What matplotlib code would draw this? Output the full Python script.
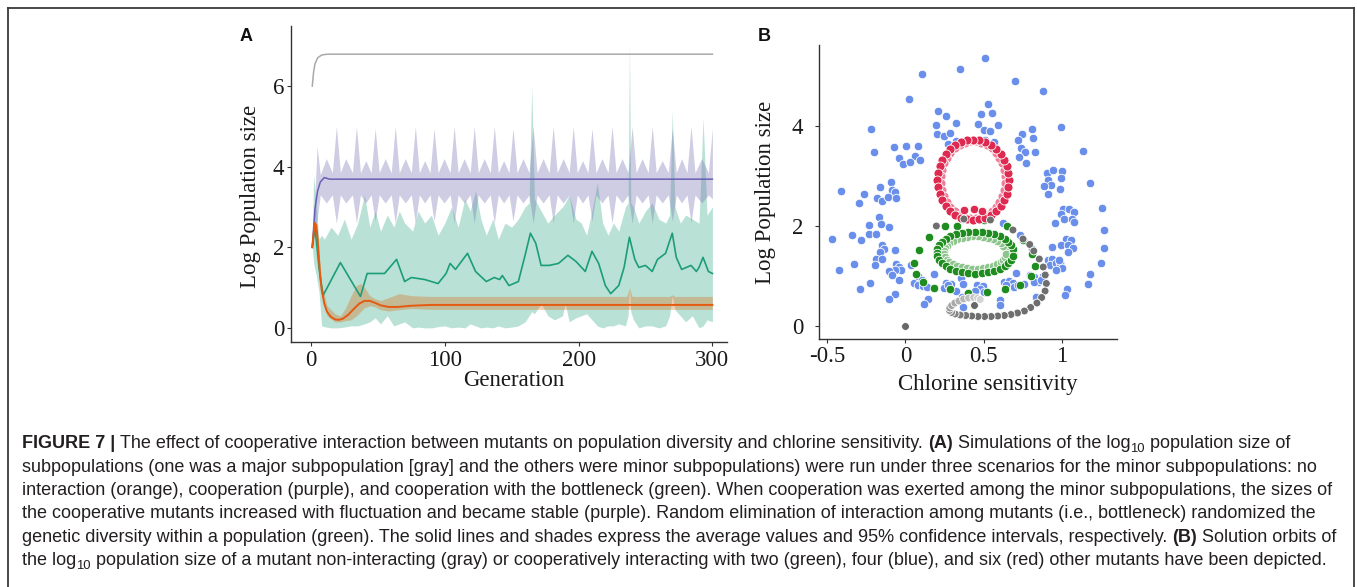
import matplotlib
matplotlib.use("Agg")
import matplotlib.pyplot as plt
from matplotlib import font_manager
from matplotlib.lines import Line2D

# ---------------- panel A data ----------------
gray_gen = [1, 2, 3, 5, 8, 12, 300]
gray_mean = [6.0, 6.35, 6.55, 6.7, 6.77, 6.79, 6.79]

purple_gen = [1, 3, 5, 7, 10, 14, 300]
purple_mean = [2.0, 2.95, 3.4, 3.62, 3.73, 3.69, 3.69]

purple_band_gen = [1, 2.5, 4.6, 7, 11.5,
                   16, 19, 22, 26, 31, 34, 37, 41, 45, 48, 51, 55.5,
                   60, 63, 66, 70.5, 75, 78, 81, 85, 89, 92, 95, 99.5,
                   104, 107, 110, 114.5, 119, 122, 125, 129.5, 134, 137, 140, 144,
                   148, 151, 154, 158.5, 163, 166, 169, 173.5, 178, 181, 184, 188.5,
                   193, 196, 199, 203, 207, 210, 213, 217.5, 222, 225, 228, 232.5,
                   237, 240, 243, 247.5, 252, 255, 258, 262.5, 267, 270, 273, 277,
                   281, 284, 287, 292, 297, 300]
purple_band_hi = [2.0, 3.0, 4.5, 3.8, 4.2,
                  3.85, 5.0, 3.85, 4.2, 3.85, 5.0, 3.85, 4.15, 3.85, 4.95, 3.85, 4.2,
                  3.85, 5.0, 3.85, 4.2, 3.85, 5.0, 3.85, 4.15, 3.85, 4.95, 3.85, 4.2,
                  3.85, 5.0, 3.85, 4.2, 3.85, 5.0, 3.85, 4.2, 3.85, 5.0, 3.85, 4.15,
                  3.85, 4.95, 3.85, 4.2, 3.85, 5.0, 3.85, 4.2, 3.85, 5.0, 3.85, 4.2,
                  3.85, 5.0, 3.85, 4.15, 3.85, 4.95, 3.85, 4.2, 3.85, 5.0, 3.85, 4.2,
                  3.85, 5.0, 3.85, 4.2, 3.85, 5.0, 3.85, 4.15, 3.85, 4.95, 3.85, 4.2,
                  3.85, 5.0, 3.85, 4.2, 3.85, 4.95]
purple_band_lo = [2.0, 2.3, 2.7, 3.3, 3.1,
                  3.3, 2.6, 3.3, 3.1, 3.3, 2.6, 3.3, 3.1, 3.3, 2.65, 3.3, 3.1,
                  3.3, 2.6, 3.3, 3.1, 3.3, 2.6, 3.3, 3.1, 3.3, 2.65, 3.3, 3.1,
                  3.3, 2.6, 3.3, 3.1, 3.3, 2.6, 3.3, 3.1, 3.3, 2.6, 3.3, 3.1,
                  3.3, 2.65, 3.3, 3.1, 3.3, 2.6, 3.3, 3.1, 3.3, 2.6, 3.3, 3.1,
                  3.3, 2.6, 3.3, 3.1, 3.3, 2.65, 3.3, 3.1, 3.3, 2.6, 3.3, 3.1,
                  3.3, 2.6, 3.3, 3.1, 3.3, 2.6, 3.3, 3.1, 3.3, 2.65, 3.3, 3.1,
                  3.3, 2.6, 3.3, 3.1, 3.3, 3.2]

green_gen = [1, 3, 6, 9, 22, 37, 42, 55, 64, 70, 75, 85, 95, 101, 104, 108, 117, 123,
             131, 137, 141, 143, 148, 155, 160, 164, 168, 172, 178, 185, 192, 198, 205,
             210, 215, 220, 224, 230, 234, 238, 242, 245, 250, 255, 259, 265, 270, 273,
             277, 284, 288, 290, 293, 297, 300]
green_mean = [2.0, 2.5, 1.5, 0.8, 1.62, 0.78, 1.35, 1.35, 1.7, 1.15, 1.25, 1.2, 1.1, 1.35,
              1.6, 1.45, 1.85, 1.4, 1.15, 1.25, 1.2, 1.3, 1.05, 1.15, 1.8, 2.35, 2.1, 1.55,
              1.55, 1.6, 1.8, 1.65, 1.4, 1.9, 1.6, 1.05, 0.85, 1.05, 1.5, 2.25, 1.7, 1.5,
              1.55, 1.4, 1.7, 1.85, 2.35, 1.75, 1.45, 1.55, 1.4, 1.5, 1.75, 1.4, 1.35]

green_band_gen = [1, 2, 4, 6, 8, 10, 15, 20, 25, 30, 35, 40, 44, 48, 52, 57, 62, 66, 70, 76,
                  80, 85, 90, 95, 100, 105, 110, 115, 119, 123, 127, 131, 136, 140, 145, 150,
                  155, 160, 163, 165, 167, 172, 177, 182, 188, 190, 193, 198, 202, 206, 210,
                  214, 218, 222, 226, 230, 235, 237, 238, 239, 241, 245, 250, 255, 260, 265,
                  268, 270, 272, 276, 280, 285, 290, 293, 296, 300]
green_band_hi = [2.0, 3.8, 3.0, 2.2, 2.3, 2.2, 2.5, 2.3, 2.7, 2.2,
                 2.6, 3.3, 2.5, 2.9, 2.4, 2.8, 2.5, 2.9, 2.6, 2.4,
                 2.9, 2.6, 2.8, 2.3, 2.6, 3.0, 2.5, 3.2, 2.9, 3.4,
                 2.7, 2.3, 2.7, 2.2, 2.6, 2.5, 2.7, 3.0, 3.1, 6.0,
                 3.2, 2.9, 2.6, 2.8, 3.0, 3.1, 3.3, 2.7, 2.6, 2.3,
                 2.9, 3.6, 2.6, 2.3, 2.6, 2.4, 3.0, 3.1, 7.1, 3.1,
                 3.0, 2.6, 2.9, 3.1, 2.7, 2.6, 2.8, 5.4, 3.0, 2.6,
                 2.8, 2.7, 2.6, 5.2, 2.8, 3.0]
green_band_lo = [2.0, 1.6, 1.3, 0.9, 0.05, 0.03, 0.0, 0.0, 0.02, 0.05,
                 0.05, 0.1, 0.15, 0.25, 0.1, 0.3, 0.05, 0.1, 0.15, 0.0,
                 0.02, 0.0, 0.0, 0.03, 0.05, 0.0, 0.02, 0.0, 0.1, 0.05,
                 0.0, 0.02, 0.0, 0.05, 0.0, 0.02, 0.05, 0.15, 0.3, 0.4,
                 0.35, 0.6, 0.3, 0.2, 0.3, 0.6, 0.15, 0.25, 0.3, 0.35,
                 0.2, 0.05, 0.0, 0.05, 0.05, 0.1, 0.05, 0.3, 1.0, 0.4,
                 0.2, 0.0, 0.05, 0.05, 0.0, 0.05, 0.3, 0.8, 0.45, 0.3,
                 0.15, 0.3, 0.0, 0.05, 0.2, 0.15]

orange_gen = [1, 2, 3, 4, 5, 6, 7, 8, 10, 12, 15, 18, 21, 24, 28, 32, 36, 40, 44, 48,
              52, 58, 65, 75, 90, 300]
orange_mean = [2.0, 2.35, 2.6, 2.55, 2.2, 1.7, 1.25, 0.95, 0.6, 0.4, 0.27, 0.21, 0.2,
               0.23, 0.33, 0.47, 0.6, 0.67, 0.67, 0.62, 0.56, 0.52, 0.52, 0.55, 0.57, 0.57]
orange_band_gen = [1, 3, 5, 8, 12, 18, 22, 26, 30, 34, 37, 40, 44, 48, 52, 58, 66, 75, 90,
                   236, 238, 240, 268, 270, 272, 300]
orange_band_hi = [2.0, 2.65, 2.3, 1.1, 0.55, 0.35, 0.3, 0.5, 0.8, 1.05, 1.1, 1.0, 0.8,
                  0.72, 0.68, 0.75, 0.85, 0.8, 0.78, 0.78, 1.0, 0.78, 0.78, 0.82, 0.78, 0.78]
orange_band_lo = [2.0, 2.5, 2.1, 0.8, 0.3, 0.15, 0.15, 0.18, 0.2, 0.3, 0.4, 0.5, 0.55,
                  0.52, 0.45, 0.42, 0.45, 0.48, 0.46, 0.46, 0.46, 0.46, 0.46, 0.46, 0.46, 0.46]

# ---------------- panel B data (chlorine sensitivity, log size) ----------------
blue_pts = [(0.508, 5.37), (0.347, 5.15), (0.106, 5.04), (0.698, 4.91), (0.879, 4.70),
            (0.022, 4.54), (0.525, 4.45), (0.208, 4.31), (0.553, 4.27), (0.481, 4.23),
            (0.260, 4.21), (-0.217, 3.94), (0.198, 4.03), (0.322, 4.06), (0.466, 4.05),
            (0.500, 3.93), (0.540, 3.91), (0.589, 4.02), (0.806, 3.95), (0.993, 3.99),
            (0.204, 3.85), (0.249, 3.81), (0.286, 3.87), (0.747, 3.85), (0.813, 3.76),
            (0.506, 3.73), (0.323, 3.71), (0.566, 3.69), (0.717, 3.73), (0.270, 3.64),
            (-0.072, 3.59), (0.004, 3.61), (0.081, 3.61), (-0.200, 3.49), (0.736, 3.57),
            (0.766, 3.49), (0.825, 3.49), (1.136, 3.51), (-0.038, 3.37), (0.062, 3.41),
            (0.096, 3.32), (-0.015, 3.25), (0.032, 3.29), (0.725, 3.39), (0.772, 3.27),
            (0.906, 3.07), (0.944, 3.13), (1.000, 3.11), (0.908, 2.93), (0.993, 2.96),
            (0.927, 2.83), (0.887, 2.80), (0.987, 2.75), (0.911, 2.65), (1.181, 2.87),
            (-0.410, 2.70), (-0.262, 2.65), (-0.298, 2.47), (-0.164, 2.79), (-0.183, 2.57),
            (-0.147, 2.51), (-0.089, 2.89), (-0.087, 2.72), (-0.068, 2.69), (-0.108, 2.59),
            (-0.057, 2.57), (1.255, 2.37), (1.004, 2.35), (1.047, 2.34), (1.079, 2.29),
            (0.993, 2.25), (1.015, 2.15), (0.957, 2.07), (1.061, 2.15), (1.079, 2.09),
            (-0.166, 2.18), (-0.230, 2.03), (-0.155, 2.05), (-0.102, 1.99), (-0.342, 1.83),
            (-0.230, 1.85), (-0.190, 1.85), (-0.470, 1.74), (-0.283, 1.72), (-0.149, 1.62),
            (-0.134, 1.54), (-0.068, 1.53), (-0.162, 1.49), (-0.190, 1.35), (-0.149, 1.35),
            (-0.194, 1.23), (-0.325, 1.25), (-0.421, 1.12), (-0.060, 1.24), (-0.040, 1.19),
            (-0.028, 1.12), (-0.068, 1.12), (-0.102, 1.10), (-0.083, 1.02), (-0.040, 0.93),
            (0.036, 1.22), (-0.225, 0.87), (-0.289, 0.75), (-0.066, 0.65), (-0.104, 0.54),
            (0.057, 0.87), (0.083, 1.00), (0.104, 0.92), (0.079, 0.83), (0.115, 0.81),
            (0.181, 1.05), (0.136, 0.79), (0.143, 0.54), (0.121, 0.45), (0.260, 0.87),
            (0.291, 0.84), (0.323, 0.70), (0.245, 0.77), (0.270, 0.82), (0.366, 0.39),
            (0.355, 0.97), (0.370, 0.85), (0.362, 0.59), (0.457, 0.83), (0.494, 0.81),
            (0.479, 0.74), (0.504, 0.69), (0.445, 0.70), (0.632, 0.89), (0.659, 0.90),
            (0.685, 0.87), (0.696, 0.79), (0.643, 0.82), (0.717, 0.83), (0.606, 0.52),
            (0.606, 0.42), (0.834, 0.59), (0.706, 1.07), (0.798, 1.03), (0.819, 0.99),
            (0.876, 1.01), (0.849, 0.89), (0.823, 0.89), (0.759, 0.85), (0.866, 0.92),
            (1.266, 1.92), (1.025, 1.75), (1.057, 1.72), (0.993, 1.63), (1.036, 1.63),
            (1.072, 1.57), (1.040, 1.49), (0.934, 1.59), (1.266, 1.57), (0.908, 1.32),
            (0.934, 1.35), (0.925, 1.23), (0.962, 1.27), (0.989, 1.27), (0.998, 1.17),
            (0.962, 1.12), (0.979, 1.32), (1.249, 1.27), (1.181, 1.05), (1.168, 0.85),
            (1.029, 0.75), (1.019, 0.62), (0.621, 2.07), (0.734, 1.82), (0.808, 1.54),
            (0.480, 2.20), (0.360, 2.15)]

red_outer = [(0.661, 2.925), (0.658, 3.065), (0.647, 3.200), (0.630, 3.328), (0.608, 3.443),
             (0.580, 3.542), (0.547, 3.622), (0.511, 3.682), (0.473, 3.718), (0.433, 3.730),
             (0.393, 3.718), (0.355, 3.682), (0.319, 3.622), (0.286, 3.542), (0.258, 3.443),
             (0.236, 3.328), (0.219, 3.200), (0.208, 3.065), (0.205, 2.925), (0.208, 2.785),
             (0.219, 2.650), (0.236, 2.522), (0.258, 2.407), (0.286, 2.308), (0.319, 2.228),
             (0.355, 2.168), (0.393, 2.132), (0.433, 2.120), (0.473, 2.132), (0.511, 2.168),
             (0.547, 2.228), (0.580, 2.308), (0.608, 2.407), (0.630, 2.522), (0.647, 2.650),
             (0.658, 2.785)]
red_inner = [(0.637, 2.992), (0.631, 3.124), (0.619, 3.251), (0.601, 3.367), (0.578, 3.469),
             (0.551, 3.556), (0.520, 3.623), (0.486, 3.669), (0.451, 3.692), (0.415, 3.692),
             (0.380, 3.669), (0.346, 3.623), (0.315, 3.556), (0.288, 3.469), (0.265, 3.367),
             (0.247, 3.251), (0.235, 3.124), (0.229, 2.992), (0.229, 2.858), (0.235, 2.726),
             (0.247, 2.599), (0.265, 2.483), (0.288, 2.381), (0.315, 2.294), (0.346, 2.227),
             (0.380, 2.181), (0.415, 2.158), (0.451, 2.158), (0.486, 2.181), (0.520, 2.227),
             (0.551, 2.294), (0.578, 2.381), (0.601, 2.483), (0.619, 2.599), (0.631, 2.726),
             (0.637, 2.858)]
red_extra = [(0.372, 2.32), (0.438, 2.34), (0.489, 2.30)]

green_outer = [(0.690, 1.470), (0.686, 1.543), (0.675, 1.614), (0.657, 1.680), (0.633, 1.740),
               (0.603, 1.792), (0.568, 1.834), (0.529, 1.865), (0.488, 1.884), (0.445, 1.890),
               (0.402, 1.884), (0.361, 1.865), (0.322, 1.834), (0.287, 1.792), (0.257, 1.740),
               (0.233, 1.680), (0.215, 1.614), (0.204, 1.543), (0.200, 1.470), (0.204, 1.397),
               (0.215, 1.326), (0.233, 1.260), (0.257, 1.200), (0.287, 1.148), (0.322, 1.106),
               (0.361, 1.075), (0.402, 1.056), (0.445, 1.050), (0.488, 1.056), (0.529, 1.075),
               (0.568, 1.106), (0.603, 1.148), (0.633, 1.200), (0.657, 1.260), (0.675, 1.326),
               (0.686, 1.397)]
green_inner = [(0.644, 1.499), (0.638, 1.555), (0.626, 1.610), (0.609, 1.659), (0.586, 1.703),
               (0.560, 1.740), (0.530, 1.769), (0.497, 1.789), (0.462, 1.799), (0.428, 1.799),
               (0.393, 1.789), (0.360, 1.769), (0.330, 1.740), (0.304, 1.703), (0.281, 1.659),
               (0.264, 1.610), (0.252, 1.555), (0.246, 1.499), (0.246, 1.441), (0.252, 1.385),
               (0.264, 1.330), (0.281, 1.281), (0.304, 1.237), (0.330, 1.200), (0.360, 1.171),
               (0.393, 1.151), (0.428, 1.141), (0.462, 1.141), (0.497, 1.151), (0.530, 1.171),
               (0.560, 1.200), (0.586, 1.237), (0.609, 1.281), (0.626, 1.330), (0.638, 1.385),
               (0.644, 1.441)]
green_spread = [(0.153, 1.79), (0.085, 1.53), (0.058, 1.27), (0.068, 1.05), (0.110, 0.89),
                (0.185, 0.77), (0.287, 0.74), (0.402, 0.67), (0.519, 0.69), (0.636, 0.74),
                (0.732, 0.83), (0.800, 1.00), (0.828, 1.20), (0.808, 1.45), (0.753, 1.73),
                (0.647, 2.00), (0.504, 2.12), (0.330, 2.00), (0.255, 2.00)]

gray_orbit = [(0.198, 2.00), (0.374, 2.14), (0.543, 2.12), (0.687, 1.92), (0.751, 1.74),
              (0.794, 1.63), (0.820, 1.50), (0.855, 1.34), (0.880, 1.18), (0.893, 1.02),
              (0.900, 0.85), (0.892, 0.70), (0.870, 0.57), (0.840, 0.46), (0.800, 0.37),
              (0.760, 0.30), (0.716, 0.26), (0.674, 0.23), (0.632, 0.21), (0.590, 0.20),
              (0.548, 0.19), (0.506, 0.19), (0.464, 0.19), (0.424, 0.20), (0.386, 0.21),
              (0.350, 0.22), (0.318, 0.24), (0.295, 0.27), (0.282, 0.31), (0.284, 0.36),
              (0.296, 0.41), (0.316, 0.46), (0.342, 0.50), (0.372, 0.54), (0.404, 0.56),
              (0.436, 0.57), (0.462, 0.56), (0.478, 0.53)]
gray_single = [(0.0, 0.0), (0.436, 0.43)]

caption_lines = [
    [("FIGURE 7 | ", "b"),
     ("The effect of cooperative interaction between mutants on population diversity and "
      "chlorine sensitivity. ", ""),
     ("(A)", "b"), (" Simulations of the log", ""), ("10", "sub"), (" population size of", "")],
    [("subpopulations (one was a major subpopulation [gray] and the others were minor "
      "subpopulations) were run under three scenarios for the minor subpopulations: no", "")],
    [("interaction (orange), cooperation (purple), and cooperation with the bottleneck (green). "
      "When cooperation was exerted among the minor subpopulations, the sizes of", "")],
    [("the cooperative mutants increased with fluctuation and became stable (purple). Random "
      "elimination of interaction among mutants (i.e., bottleneck) randomized the", "")],
    [("genetic diversity within a population (green). The solid lines and shades express the "
      "average values and 95% confidence intervals, respectively. ", ""),
     ("(B)", "b"), (" Solution orbits of", "")],
    [("the log", ""), ("10", "sub"),
     (" population size of a mutant non-interacting (gray) or cooperatively interacting with "
      "two (green), four (blue), and six (red) other mutants have been depicted.", "")],
]

W, H = 1357, 587
SERIF = "Liberation Serif"
names = {f.name for f in font_manager.fontManager.ttflist}
CAP_FONT = "Liberation Sans Narrow" if "Liberation Sans Narrow" in names else "Liberation Sans"

plt.rcParams["font.family"] = SERIF
plt.rcParams["axes.unicode_minus"] = False

fig = plt.figure(figsize=(W / 100, H / 100), dpi=100)


def style_axes(ax):
    for s in ["top", "right"]:
        ax.spines[s].set_visible(False)
    for s in ["left", "bottom"]:
        ax.spines[s].set_linewidth(1.0)
        ax.spines[s].set_color("#333333")
    ax.tick_params(length=3, width=0.8, color="#333333", labelsize=16.5, labelcolor="#1a1a1a")


# ---------------- Panel A ----------------
axA = fig.add_axes([291 / W, 1 - 342 / H, 436 / W, 316 / H])
axA.fill_between(green_band_gen, green_band_lo, green_band_hi, color="#1b9e77", alpha=0.3, lw=0)
axA.fill_between(orange_band_gen, orange_band_lo, orange_band_hi, color="#d95f02", alpha=0.3, lw=0)
axA.fill_between(purple_band_gen, purple_band_lo, purple_band_hi, color="#7570b3", alpha=0.35, lw=0)
axA.plot(gray_gen, gray_mean, color="#a9a9a9", lw=1.1)
axA.plot(purple_gen, purple_mean, color="#6a5fb5", lw=1.1)
axA.plot(green_gen, green_mean, color="#1b9e77", lw=1.2)
axA.plot(orange_gen, orange_mean, color="#e35a10", lw=1.4)
axA.set_xlim(-14.9, 310.9)
axA.set_ylim(-0.35, 7.49)
axA.set_xticks([0, 100, 200, 300])
axA.set_yticks([0, 2, 4, 6])
style_axes(axA)
axA.tick_params(axis="x", pad=3)
axA.tick_params(axis="y", pad=2)
axA.set_xlabel("Generation", fontsize=16.5, color="#1a1a1a")
axA.set_ylabel("Log Population size", fontsize=16.5, color="#1a1a1a")
axA.xaxis.set_label_coords(0.51, -0.123)
axA.xaxis.label.set_va("center")
axA.yaxis.set_label_coords(-0.092, 0.46)
axA.yaxis.label.set_va("center")

# ---------------- Panel B ----------------
axB = fig.add_axes([819 / W, 1 - 339 / H, 298 / W, 294 / H])
kw = dict(edgecolors="white", linewidths=0.6)
axB.scatter([p[0] for p in blue_pts], [p[1] for p in blue_pts], s=38, color="#6a8fea", **kw)
axB.scatter([p[0] for p in green_spread], [p[1] for p in green_spread], s=38, color="#1e8c1e", **kw)
axB.scatter([p[0] for p in green_inner], [p[1] for p in green_inner], s=38, color="#8cc48c", **kw)
axB.scatter([p[0] for p in green_outer], [p[1] for p in green_outer], s=38, color="#1e8c1e", **kw)
axB.scatter([p[0] for p in red_inner], [p[1] for p in red_inner], s=42, color="#ef7d95", **kw)
axB.scatter([p[0] for p in red_outer], [p[1] for p in red_outer], s=42, color="#de2a50", **kw)
axB.scatter([p[0] for p in red_extra], [p[1] for p in red_extra], s=38, color="#de2a50", **kw)
n_gray = len(gray_orbit)
gray_cols = []
for i in range(n_gray):
    # the inner part of the orbit fades out towards light grey
    f = 0.0 if i < 24 else (i - 23) / (n_gray - 23)
    g = int(110 + f * 110)
    gray_cols.append("#%02x%02x%02x" % (g, g, g))
axB.scatter([p[0] for p in gray_orbit], [p[1] for p in gray_orbit], s=32, color=gray_cols, **kw)
axB.scatter([p[0] for p in gray_single], [p[1] for p in gray_single], s=32, color="#666666", **kw)
axB.set_xlim(-0.551, 1.351)
axB.set_ylim(-0.26, 5.62)
axB.set_xticks([-0.5, 0, 0.5, 1])
axB.set_xticklabels(["-0.5", "0", "0.5", "1"])
axB.set_yticks([0, 2, 4])
style_axes(axB)
axB.tick_params(axis="x", pad=2)
axB.tick_params(axis="y", pad=8.5)
axB.set_xlabel("Chlorine sensitivity", fontsize=16.5, color="#1a1a1a")
axB.set_ylabel("Log Population size", fontsize=16.5, color="#1a1a1a")
axB.xaxis.set_label_coords(0.567, -0.156)
axB.xaxis.label.set_va("center")
axB.yaxis.set_label_coords(-0.181, 0.497)
axB.yaxis.label.set_va("center")

# panel letters
fig.text(240 / W, 1 - 40.7 / H, "A", family="Liberation Sans", fontweight="bold",
         fontsize=13, va="baseline", color="#111111")
fig.text(758 / W, 1 - 40.7 / H, "B", family="Liberation Sans", fontweight="bold",
         fontsize=13, va="baseline", color="#111111")

# frame around the figure (top, left, right)
for xs, ys in [([8, 1354], [8, 8]), ([8, 8], [8, H]), ([1354, 1354], [8, H])]:
    fig.add_artist(Line2D([x / W for x in xs], [1 - y / H for y in ys],
                          transform=fig.transFigure, color="#3a3a3a", lw=1.3))

# ---------------- caption ----------------
renderer = fig.canvas.get_renderer()
probe = fig.text(0, 0, caption_lines[2][0][0], family=CAP_FONT, fontsize=13)
cap_size = 13 * 1311 / probe.get_window_extent(renderer).width
probe.remove()

baselines = [448.3, 471.7, 495.1, 518.5, 541.9, 565.3]
for yb, runs in zip(baselines, caption_lines):
    x = 22.0
    for text, st in runs:
        size = cap_size * (0.72 if st == "sub" else 1.0)
        yy = yb + (3.5 if st == "sub" else 0)
        t = fig.text(x / W, 1 - yy / H, text, family=CAP_FONT, fontsize=size,
                     fontweight="bold" if st == "b" else "normal",
                     va="baseline", ha="left", color="#231f20")
        x += t.get_window_extent(renderer).width

fig.savefig("out.png", dpi=100)
